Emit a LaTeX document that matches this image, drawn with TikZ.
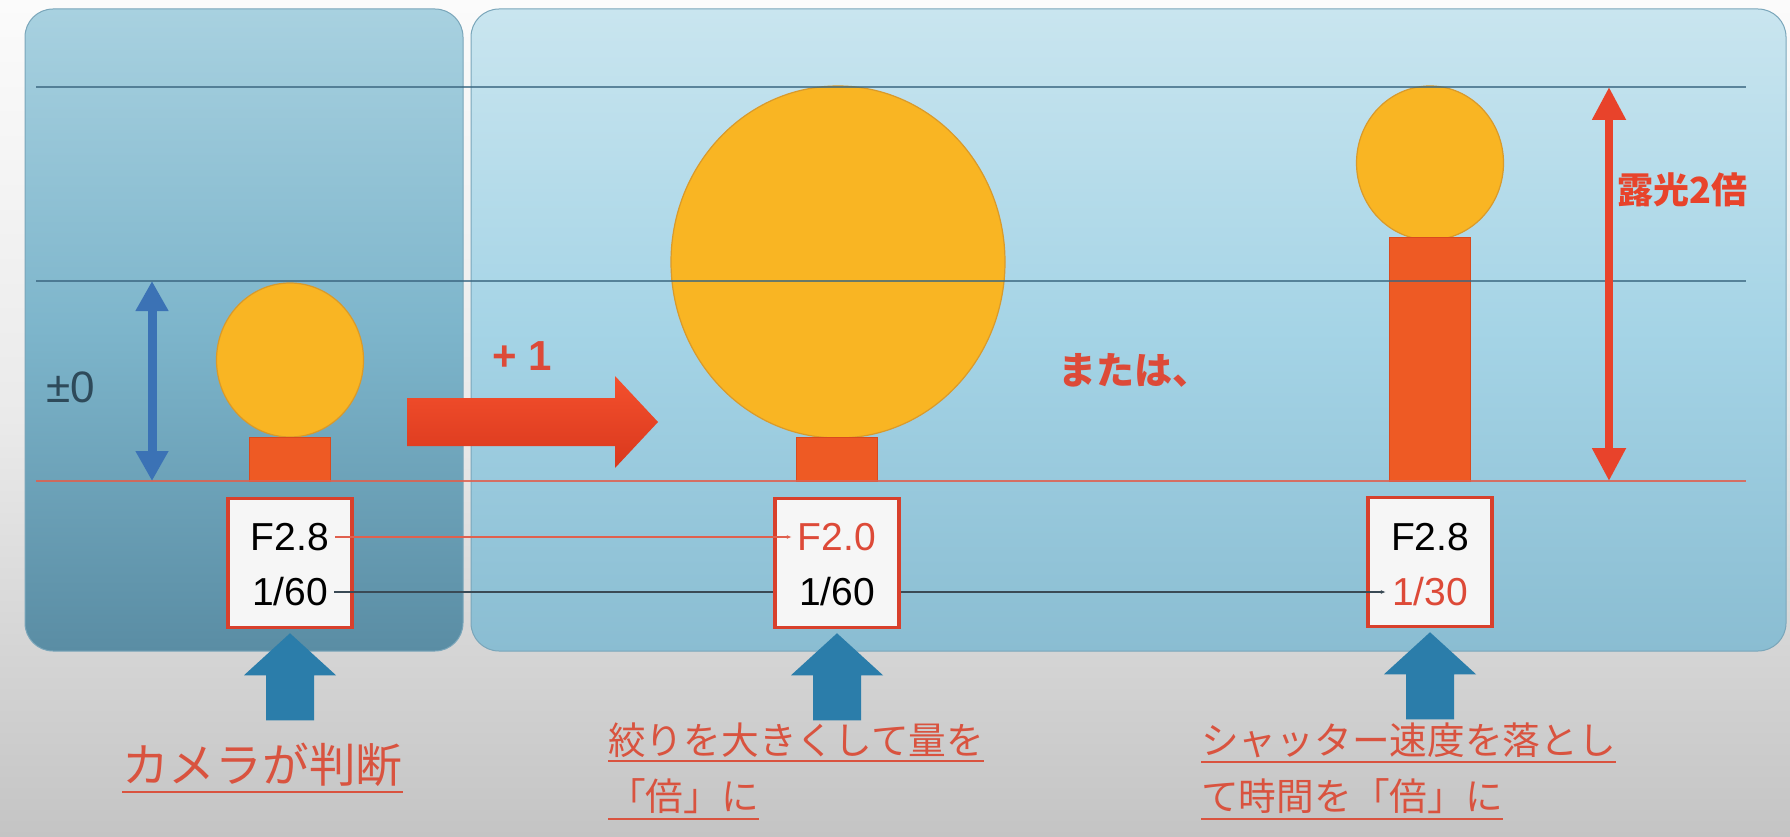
\documentclass[tikz,border=0pt]{standalone}
\usepackage{fontspec}
\setmainfont{Liberation Sans}
\newfontfamily\jp{Noto Sans CJK JP}
\usetikzlibrary{arrows.meta,shapes.geometric,calc}

\definecolor{bgtop}{HTML}{FBFBFB}
\definecolor{bgmid}{HTML}{EAEAEA}
\definecolor{bgbot}{HTML}{C4C4C4}
\definecolor{pLtop}{HTML}{A8D1E0}
\definecolor{pLmid}{HTML}{7DB5CB}
\definecolor{pLbot}{HTML}{5A8DA4}
\definecolor{pRtop}{HTML}{C9E5EF}
\definecolor{pRmid}{HTML}{A5D4E6}
\definecolor{pRbot}{HTML}{8ABDD2}
\definecolor{pedge}{HTML}{7AA6BA}
\definecolor{sunfill}{HTML}{F9B523}
\definecolor{sunedge}{HTML}{D99A2B}
\definecolor{stemfill}{HTML}{EE5A24}
\definecolor{stemedge}{HTML}{D94A1E}
\definecolor{guideblue}{HTML}{3A6680}
\definecolor{guidered}{HTML}{E0604E}
\definecolor{linkgray}{HTML}{3A4A55}
\definecolor{boxred}{HTML}{D8402C}
\definecolor{boxfill}{HTML}{F6F6F6}
\definecolor{txtred}{HTML}{DD4A38}
\definecolor{arrowtop}{HTML}{F4502D}
\definecolor{arrowbot}{HTML}{D9381D}
\definecolor{arrowred}{HTML}{E8432B}
\definecolor{dblblue}{HTML}{3B72B5}
\definecolor{upblue}{HTML}{2B7DAA}
\definecolor{labelred}{HTML}{D9533F}
\definecolor{pmgray}{HTML}{2E4A5A}

\tikzset{
  sun/.style={ellipse, fill=sunfill, draw=sunedge, line width=1.2pt, inner sep=0pt},
  stem/.style={rectangle, fill=stemfill, draw=stemedge, line width=0.8pt, minimum width=81pt, inner sep=0pt},
  valbox/.style={rectangle, fill=boxfill, draw=boxred, line width=3.5pt, minimum width=124pt, minimum height=129pt},
  valtxt/.style={font=\fontsize{39}{44}\selectfont, inner sep=6pt},
  guideB/.style={draw=guideblue, line width=1.8pt, opacity=0.75},
  guideR/.style={draw=guidered, line width=1.8pt, opacity=0.85},
  link/.style={line width=1.5pt, -{Latex[length=5pt,width=4pt]}},
  lbl/.style={text=labelred, anchor=south west, inner sep=0pt},
  uline/.style={draw=labelred, line width=2.8pt},
  dblarrow/.style={line width=9pt, {Triangle[length=30pt,width=31pt]}-{Triangle[length=30pt,width=31pt]}},
  uparr/.pic={\fill[upblue] (0,0) -- (46,42) -- (24,42) -- (24,87) -- (-24,87) -- (-24,42) -- (-46,42) -- cycle;},
}

\begin{document}
\begin{tikzpicture}[x=1pt,y=-1pt]
\useasboundingbox (0,0) rectangle (1790,837);
% background
\shade[top color=bgtop, bottom color=bgbot, middle color=bgmid] (0,0) rectangle (1790,837);
% panels
\shade[rounded corners=28pt, top color=pLtop, bottom color=pLbot, middle color=pLmid] (25,9) rectangle (463,651);
\draw[pedge, line width=1pt, rounded corners=28pt] (25,9) rectangle (463,651);
\shade[rounded corners=28pt, top color=pRtop, bottom color=pRbot, middle color=pRmid] (471,9) rectangle (1786,651);
\draw[pedge, line width=1pt, rounded corners=28pt] (471,9) rectangle (1786,651);

% suns and stems
\node[sun, minimum width=147pt, minimum height=154pt] (sunL) at (290,360) {};
\node[stem, minimum height=44pt] (stemL) at (290,459) {};
\node[sun, minimum width=334pt, minimum height=352pt] (sunM) at (838,262) {};
\node[stem, minimum height=44pt] (stemM) at (837,459) {};
\node[sun, minimum width=147pt, minimum height=154pt] (sunR) at (1430,163) {};
\node[stem, minimum height=244pt] (stemR) at (1430,359) {};

% guide lines
\draw[guideB] (36,87) -- (1746,87);
\draw[guideB] (36,281) -- (1746,281);
\draw[guideR] (36,481) -- (1746,481);

% measuring arrows
\draw[dblarrow, dblblue] (152,281) -- (152,481);
\draw[line width=8pt, arrowred, {Triangle[length=33pt,width=32pt]}-{Triangle[length=33pt,width=32pt]}] (1609,87) -- (1609,481);

% big red arrow
\shade[top color=arrowtop, bottom color=arrowbot] (407,398) -- (615,398) -- (615,376) -- (658,422) -- (615,468) -- (615,446) -- (407,446) -- cycle;

% texts in panels
\node[font=\fontsize{44}{48}\selectfont, text=pmgray] (pm) at (71,387) {±0};
\node[font=\bfseries\fontsize{42}{46}\selectfont, text=txtred] (plus) at (522,356) {+ 1};
\node[font=\jp\bfseries\fontsize{38}{42}\selectfont, text=txtred, anchor=west, inner sep=0pt] (mata) at (1058,370) {または、};
\node[font=\jp\bfseries\fontsize{36}{40}\selectfont, text=arrowred, anchor=west, inner sep=0pt] (kouko) at (1617,190) {露光2倍};

% value boxes
\node[valbox] (b1) at (290,563) {};
\node[valbox] (b2) at (837,563) {};
\node[valbox] (b3) at (1430,562) {};
\node[valtxt] (f1) at (290,537) {F2.8};
\node[valtxt] (s1) at (290,592) {1/60};
\node[valtxt, text=txtred] (f2) at (837,537) {F2.0};
\node[valtxt] (s2) at (837,592) {1/60};
\node[valtxt] (f3) at (1430,537) {F2.8};
\node[valtxt, text=txtred] (s3) at (1430,592) {1/30};

% connectors
\draw[link, draw=guidered, fill=guidered] (f1.east) -- (f2.west);
\draw[line width=1.5pt, draw=linkgray] (s1.east) -- (s1.east -| b2.west);
\draw[link, draw=linkgray, fill=linkgray] (s1.east -| b2.east) -- (s3.west);

% up arrows
\pic at ($(b1.south)+(0,4)$) {uparr};
\pic at ($(b2.south)+(0,4)$) {uparr};
\pic at ($(b3.south)+(0,4)$) {uparr};

% labels
\node[lbl, font=\jp\fontsize{46.7}{50}\selectfont] (lab1) at (122,787) {カメラが判断};
\draw[uline] ([yshift=-5pt]lab1.south west) -- ([yshift=-5pt]lab1.south east);

\node[lbl, font=\jp\fontsize{37.7}{40}\selectfont] (lab2a) at (608,758) {絞りを大きくして量を};
\draw[uline] ([yshift=-3pt]lab2a.south west) -- ([yshift=-3pt]lab2a.south east);
\node[lbl, font=\jp\fontsize{37.7}{40}\selectfont] (lab2b) at (608,814) {「倍」に};
\draw[uline] ([yshift=-5pt]lab2b.south west) -- ([yshift=-5pt]lab2b.south east);

\node[lbl, font=\jp\fontsize{37.7}{40}\selectfont] (lab3a) at (1201,758) {シャッター速度を落とし};
\draw[uline] ([yshift=-4pt]lab3a.south west) -- ([yshift=-4pt]lab3a.south east);
\node[lbl, font=\jp\fontsize{37.7}{40}\selectfont] (lab3b) at (1201,814) {て時間を「倍」に};
\draw[uline] ([yshift=-5pt]lab3b.south west) -- ([yshift=-5pt]lab3b.south east);
\end{tikzpicture}
\end{document}
